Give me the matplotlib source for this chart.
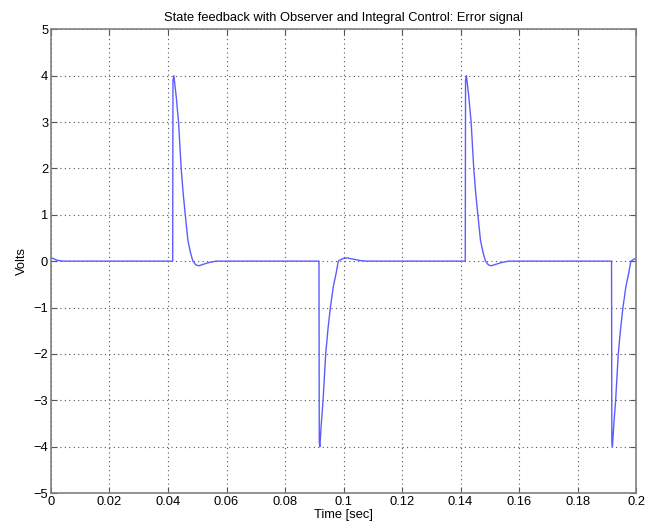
import matplotlib
matplotlib.use("Agg")
import matplotlib.pyplot as plt

plt.rcParams['font.family'] = ['Liberation Sans', 'DejaVu Sans']

# Error signal (time in s, value in V)
time_s = [0.0, 0.0010, 0.0020, 0.0040, 0.0300, 0.0416,
          0.0417, 0.0420, 0.0428, 0.0436, 0.0445, 0.0452, 0.0459, 0.0468,
          0.0477, 0.0485, 0.0495, 0.0505, 0.0520, 0.0540, 0.0565, 0.0800, 0.0916,
          0.0917, 0.0919, 0.0924, 0.0930, 0.0939, 0.0947, 0.0955, 0.0965, 0.0975,
          0.0982, 0.0995, 0.1013, 0.1035, 0.1060, 0.1080, 0.1300, 0.1416,
          0.1417, 0.1420, 0.1428, 0.1436, 0.1445, 0.1452, 0.1459, 0.1468,
          0.1477, 0.1485, 0.1495, 0.1505, 0.1520, 0.1540, 0.1565, 0.1800, 0.1916,
          0.1917, 0.1919, 0.1924, 0.1930, 0.1939, 0.1947, 0.1955, 0.1965, 0.1975,
          0.1982, 0.1995, 0.2000]
error_v = [0.07, 0.05, 0.02, 0.0, 0.0, 0.0,
           3.9, 4.0, 3.55, 3.0, 2.0, 1.45, 1.0, 0.45,
           0.18, 0.0, -0.08, -0.1, -0.07, -0.03, 0.0, 0.0, 0.0,
           -3.9, -4.0, -3.5, -3.0, -2.0, -1.45, -1.0, -0.55, -0.25,
           0.0, 0.05, 0.07, 0.04, 0.01, 0.0, 0.0, 0.0,
           3.9, 4.0, 3.55, 3.0, 2.0, 1.45, 1.0, 0.45,
           0.18, 0.0, -0.08, -0.1, -0.07, -0.03, 0.0, 0.0, 0.0,
           -3.9, -4.0, -3.5, -3.0, -2.0, -1.45, -1.0, -0.55, -0.25,
           0.0, 0.05, 0.05]

xticks = [0, 0.02, 0.04, 0.06, 0.08, 0.1, 0.12, 0.14, 0.16, 0.18, 0.2]
xtick_labels = ['0', '0.02', '0.04', '0.06', '0.08', '0.1', '0.12', '0.14', '0.16', '0.18', '0.2']
yticks = [-5, -4, -3, -2, -1, 0, 1, 2, 3, 4, 5]
ytick_labels = ['\u22125', '\u22124', '\u22123', '\u22122', '\u22121', '0', '1', '2', '3', '4', '5']

fig = plt.figure(figsize=(6.56, 5.27), dpi=100)
ax = fig.add_axes([0.0777, 0.0645, 0.892, 0.880])
ax.plot(time_s, error_v, color='#5c5cff', linewidth=1.0)

ax.set_xlim(0, 0.2)
ax.set_ylim(-5, 5)
ax.set_xticks(xticks)
ax.set_xticklabels(xtick_labels)
ax.set_yticks(yticks)
ax.set_yticklabels(ytick_labels)
ax.grid(True, linestyle=(0, (1, 3)), color='#555555', linewidth=0.8)
ax.tick_params(direction='in', top=True, right=True, labelsize=9.3, length=4,
               color='#555555', pad=2)
for s in ax.spines.values():
    s.set_color('#808080')
    s.set_linewidth(1.2)

ax.set_title('State feedback with Observer and Integral Control: Error signal', fontsize=9.3, pad=6)
ax.set_xlabel('Time [sec]', fontsize=9.3, labelpad=1)
ax.set_ylabel('Volts', fontsize=9.3, labelpad=4)

fig.savefig('out.png', dpi=100)
